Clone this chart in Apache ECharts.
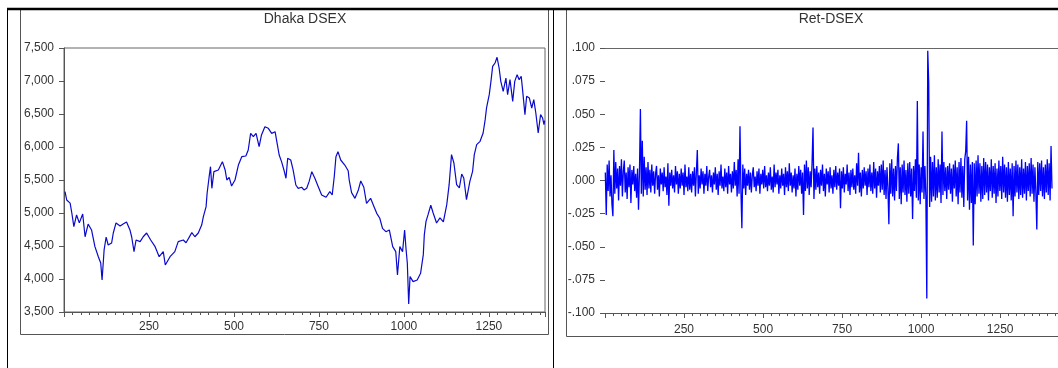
<!DOCTYPE html>
<html>
<head>
<meta charset="utf-8">
<script src="https://cdn.jsdelivr.net/npm/echarts@6/dist/echarts.min.js"></script>
<style>
  html, body { margin: 0; padding: 0; background: #fff; }
</style>
</head>
<body>
<div id="main" style="width:1058px;height:368px;"></div>
<script>
// Dhaka DSEX index level (day, value)
var dsexDays = [3, 8, 18, 23, 29, 37, 45, 55, 62, 71, 81, 91, 101, 108, 112, 118, 124, 130, 140, 145,
  153, 165, 174, 184, 194, 199, 206, 212, 224, 233, 243, 255, 268, 280, 292, 298, 312, 326, 336, 351,
  359, 376, 385, 395, 405, 410, 418, 421, 427, 431, 435, 441, 454, 466, 474, 479, 486, 493, 503, 513,
  523, 535, 542, 549, 557, 565, 574, 581, 591, 601, 611, 621, 627, 633, 640, 647, 653, 658, 667, 674,
  682, 689, 699, 706, 714, 721, 729, 738, 748, 758, 771, 782, 789, 795, 800, 806, 814, 826, 836, 839,
  846, 856, 866, 873, 882, 890, 902, 912, 920, 929, 937, 947, 957, 967, 976, 981, 988, 996, 1002, 1006,
  1010, 1014, 1018, 1027, 1039, 1049, 1057, 1060, 1065, 1071, 1079, 1086, 1096, 1106, 1116, 1126, 1133, 1140, 1147, 1155,
  1163, 1170, 1176, 1184, 1194, 1202, 1207, 1214, 1224, 1233, 1239, 1243, 1251, 1256, 1261, 1268, 1274, 1280, 1285, 1292,
  1300, 1305, 1312, 1320, 1326, 1333, 1339, 1345, 1349, 1356, 1361, 1369, 1376, 1382, 1388, 1395, 1402, 1408, 1412, 1414];
var dsexVals = [5323, 5197, 5150, 5000, 4793, 4970, 4850, 4985, 4640, 4833, 4743, 4490, 4338, 4243, 3985, 4440, 4636, 4515, 4545, 4697,
  4850, 4803, 4833, 4864, 4743, 4640, 4414, 4591, 4566, 4640, 4697, 4591, 4490, 4338, 4414, 4212, 4338, 4414, 4566, 4591,
  4550, 4702, 4640, 4697, 4818, 4944, 5096, 5299, 5550, 5702, 5374, 5626, 5652, 5778, 5652, 5500, 5541, 5409, 5500, 5727,
  5853, 5864, 5955, 6207, 6156, 6207, 6005, 6182, 6308, 6283, 6207, 6232, 6056, 5879, 5778, 5652, 5526, 5829, 5803, 5652,
  5424, 5374, 5390, 5349, 5374, 5475, 5626, 5526, 5399, 5273, 5238, 5323, 5273, 5550, 5853, 5929, 5803, 5727, 5641, 5500,
  5308, 5222, 5349, 5485, 5390, 5147, 5222, 5096, 4995, 4920, 4768, 4717, 4743, 4490, 4414, 4061, 4490, 4414, 4743, 4465,
  4238, 3622, 4036, 3960, 3985, 4086, 4369, 4672, 4874, 4975, 5117, 5000, 4849, 4925, 4864, 5126, 5429, 5884, 5758, 5429,
  5379, 5591, 5530, 5202, 5480, 5632, 5884, 6035, 6086, 6212, 6414, 6591, 6793, 6995, 7222, 7273, 7359, 7197, 6995, 6844,
  7045, 6793, 7020, 6692, 6995, 7096, 7020, 7071, 6869, 6490, 6768, 6742, 6591, 6717, 6515, 6212, 6490, 6439, 6338, 6400];

// Ret-DSEX daily returns, one value every 3rd day starting at day 1
var retStart = 1;
var retStep = 3;
var retVals = [
  0.006, -0.026, 0.012, -0.008, 0.015, -0.012, 0.004, -0.018, -0.027, 0.023,
  -0.010, 0.014, -0.006, 0.009, -0.015, 0.011, -0.004, 0.016, -0.012, 0.007,
  0.015, -0.009, 0.006, -0.014, 0.010, -0.005, 0.012, -0.017, 0.008, -0.003,
  0.011, -0.008, 0.005, -0.013, 0.009, -0.022, 0.006, 0.054, -0.010, 0.030,
  -0.012, 0.018, -0.007, 0.010, -0.011, 0.014, -0.006, 0.008, -0.009, 0.012,
  -0.004, 0.007, -0.010, 0.005, 0.011, -0.007, 0.004, -0.012, 0.009, -0.003,
  0.006, -0.008, 0.010, -0.005, 0.003, -0.011, 0.013, -0.019, 0.006, -0.004,
  0.008, -0.006, 0.004, -0.009, 0.011, -0.003, 0.007, -0.010, 0.005, -0.006,
  0.009, -0.004, 0.006, -0.011, 0.012, -0.005, 0.003, -0.008, 0.010, -0.007,
  0.005, -0.009, 0.007, -0.004, 0.010, -0.012, 0.006, 0.023, -0.010, 0.004,
  -0.006, 0.009, -0.003, 0.007, -0.010, 0.005, -0.004, 0.011, -0.008, 0.003,
  0.008, -0.005, 0.004, -0.009, 0.006, -0.003, 0.010, -0.007, 0.005, -0.011,
  0.007, -0.004, 0.012, -0.006, 0.003, -0.008, 0.009, -0.005, 0.006, -0.010,
  0.011, -0.003, 0.005, -0.009, 0.007, -0.006, 0.014, -0.004, 0.008, -0.012,
  0.016, -0.010, 0.041, -0.008, -0.036, 0.012, -0.006, 0.009, -0.011, 0.005,
  -0.004, 0.008, -0.007, 0.006, -0.009, 0.004, 0.010, -0.005, 0.003, -0.008,
  0.007, -0.004, 0.009, -0.010, 0.005, -0.003, 0.008, -0.006, 0.011, -0.005,
  0.004, -0.008, 0.006, -0.004, 0.010, -0.007, 0.003, -0.009, 0.012, -0.005,
  0.006, -0.003, 0.008, -0.010, 0.004, -0.006, 0.009, -0.004, 0.005, -0.011,
  0.010, -0.005, 0.007, -0.008, 0.013, -0.004, 0.006, -0.009, 0.004, -0.006,
  0.009, -0.012, 0.005, -0.007, 0.011, -0.004, 0.008, -0.010, 0.006, -0.026,
  0.012, -0.008, 0.015, -0.006, 0.010, -0.011, 0.007, -0.005, 0.013, 0.040,
  -0.014, 0.009, -0.007, 0.011, -0.005, 0.006, -0.010, 0.008, -0.004, 0.012,
  -0.008, 0.005, -0.012, 0.009, -0.003, 0.007, -0.009, 0.010, -0.006, 0.004,
  -0.010, 0.008, -0.005, 0.011, -0.007, 0.006, -0.004, 0.009, -0.021, 0.007,
  -0.006, 0.010, -0.009, 0.005, -0.003, 0.012, -0.008, 0.006, -0.011, 0.008,
  -0.005, 0.009, -0.007, 0.004, -0.010, 0.013, -0.004, 0.021, -0.009, 0.006,
  -0.012, 0.008, -0.006, 0.010, -0.004, 0.007, -0.011, 0.009, -0.005, 0.012,
  -0.008, 0.006, -0.010, 0.014, -0.006, 0.009, -0.013, 0.007, -0.004, 0.011,
  -0.009, 0.012, -0.007, 0.015, -0.011, 0.008, -0.014, 0.010, -0.006, -0.033,
  0.013, -0.010, 0.016, -0.012, 0.009, -0.015, 0.011, -0.008, 0.017, 0.028,
  -0.014, 0.010, -0.018, 0.012, -0.009, 0.015, -0.011, 0.008, -0.016, 0.013,
  -0.010, 0.014, -0.012, 0.009, -0.029, 0.011, -0.008, 0.016, -0.013, 0.060,
  -0.015, 0.012, -0.018, 0.010, -0.009, 0.037, -0.014, 0.011, -0.012, -0.089,
  0.098, 0.074, -0.020, 0.018, -0.016, 0.014, -0.012, 0.019, -0.015, 0.010,
  -0.013, 0.016, -0.009, 0.012, -0.017, 0.037, -0.011, 0.014, -0.008, 0.010,
  -0.014, 0.011, -0.007, 0.013, -0.010, 0.009, -0.016, 0.012, -0.006, 0.015,
  -0.012, 0.010, -0.018, 0.014, -0.009, 0.017, -0.013, 0.011, -0.020, 0.016,
  0.022, 0.045, -0.015, 0.018, -0.022, 0.012, -0.017, 0.014, -0.049, 0.013,
  -0.018, 0.015, -0.012, 0.019, -0.010, 0.013, -0.016, 0.011, -0.014, 0.017,
  -0.011, 0.014, -0.009, 0.012, -0.015, 0.010, -0.008, 0.016, -0.013, 0.011,
  -0.010, 0.013, -0.017, 0.009, -0.012, 0.015, -0.008, 0.011, -0.014, 0.018,
  -0.009, 0.012, -0.013, 0.010, -0.016, 0.014, -0.011, 0.009, -0.015, 0.013,
  -0.027, 0.011, -0.012, 0.015, -0.009, 0.012, -0.014, 0.010, -0.011, 0.016,
  -0.013, 0.009, -0.010, 0.014, -0.015, 0.011, -0.008, 0.013, -0.012, 0.017,
  -0.010, 0.012, -0.016, 0.010, -0.009, -0.037, 0.014, -0.011, 0.013, -0.008,
  0.015, -0.012, 0.010, -0.014, 0.012, -0.009, 0.016, -0.011, 0.013, -0.015,
  0.026, -0.006];

var xTicks = [250, 500, 750, 1000, 1250];

var dsexData = dsexDays.map(function (d, i) { return [d, dsexVals[i]]; });
var retData = retVals.map(function (v, i) { return [retStart + i * retStep, v]; });

var font = '"Liberation Sans", Arial, sans-serif';
var txt = '#333';
var axisGray = '#555';

function xLabel(v) { return xTicks.indexOf(v) >= 0 ? String(v) : ''; }
function levelLabel(v) { return v.toLocaleString('en-US'); }
function retLabel(v) {
  var s = Math.abs(v).toFixed(3).replace(/^0/, '');
  return (v < -1e-9 ? '-' : '') + s;
}

var chart = echarts.init(document.getElementById('main'), null, { renderer: 'canvas' });

var option = {
  animation: false,
  backgroundColor: '#fff',
  textStyle: { fontFamily: font },
  graphic: [
    { type: 'rect', shape: { x: 20.5, y: 9.5, width: 528, height: 325 }, style: { fill: 'none', stroke: '#555', lineWidth: 1 } },
    { type: 'rect', shape: { x: 566.5, y: 9.5, width: 600, height: 327 }, style: { fill: 'none', stroke: '#555', lineWidth: 1 } },
    { type: 'line', shape: { x1: 7, y1: 9, x2: 1058, y2: 9 }, style: { stroke: '#000', lineWidth: 2.5 } },
    { type: 'line', shape: { x1: 7.5, y1: 9, x2: 7.5, y2: 368 }, style: { stroke: '#000', lineWidth: 1 } },
    { type: 'line', shape: { x1: 553.5, y1: 9, x2: 553.5, y2: 368 }, style: { stroke: '#000', lineWidth: 1 } },
    { type: 'text', x: 305, y: 19, style: { text: 'Dhaka DSEX', font: '14px ' + font, fill: txt, textAlign: 'center', textVerticalAlign: 'middle' } },
    { type: 'text', x: 831, y: 19, style: { text: 'Ret-DSEX', font: '14px ' + font, fill: txt, textAlign: 'center', textVerticalAlign: 'middle' } }
  ],
  grid: [
    { left: 64, top: 48, width: 481, height: 264, show: true, borderColor: '#666', borderWidth: 1, backgroundColor: 'transparent' },
    { left: 605, top: 48, width: 453, height: 265 }
  ],
  xAxis: [
    {
      type: 'value', gridIndex: 0, min: 0, max: 1415, interval: 250,
      axisLine: { show: true, onZero: false, lineStyle: { color: axisGray } },
      axisTick: { show: true, inside: false, length: 5, lineStyle: { color: axisGray } },
      minorTick: { show: true, splitNumber: 10, length: 3, lineStyle: { color: axisGray } },
      axisLabel: { formatter: xLabel, fontSize: 12, color: txt, margin: 9, fontFamily: font, showMinLabel: false, showMaxLabel: false },
      splitLine: { show: false }
    },
    {
      type: 'value', gridIndex: 1, min: 0, max: 1433, interval: 250,
      axisLine: { show: true, onZero: false, lineStyle: { color: axisGray } },
      axisTick: { show: true, inside: false, length: 5, lineStyle: { color: axisGray } },
      minorTick: { show: true, splitNumber: 10, length: 3, lineStyle: { color: axisGray } },
      axisLabel: { formatter: xLabel, fontSize: 12, color: txt, margin: 11, fontFamily: font, showMinLabel: false, showMaxLabel: false },
      splitLine: { show: false }
    },
    {
      type: 'value', gridIndex: 1, position: 'top', min: 0, max: 1433,
      axisLine: { show: true, onZero: false, lineStyle: { color: '#666' } },
      axisTick: { show: false }, axisLabel: { show: false }, splitLine: { show: false }
    }
  ],
  yAxis: [
    {
      type: 'value', gridIndex: 0, min: 3500, max: 7500, interval: 500,
      axisLine: { show: true, lineStyle: { color: axisGray } },
      axisTick: { show: true, inside: false, length: 5, lineStyle: { color: axisGray } },
      axisLabel: { formatter: levelLabel, fontSize: 12, color: txt, margin: 10, fontFamily: font },
      splitLine: { show: false }
    },
    {
      type: 'value', gridIndex: 1, min: -0.1, max: 0.1, interval: 0.025,
      axisLine: { show: false },
      axisTick: { show: true, inside: false, length: 5, lineStyle: { color: axisGray } },
      axisLabel: { formatter: retLabel, fontSize: 12, color: txt, margin: 10, fontFamily: font },
      splitLine: { show: false }
    }
  ],
  series: [
    {
      name: 'Dhaka DSEX', type: 'line', xAxisIndex: 0, yAxisIndex: 0,
      data: dsexData, showSymbol: false,
      lineStyle: { color: '#0a0acc', width: 1.2 }
    },
    {
      name: 'Ret-DSEX', type: 'line', xAxisIndex: 1, yAxisIndex: 1,
      data: retData, showSymbol: false,
      lineStyle: { color: '#0000ff', width: 1.3 }
    }
  ]
};

chart.setOption(option);
</script>
</body>
</html>
